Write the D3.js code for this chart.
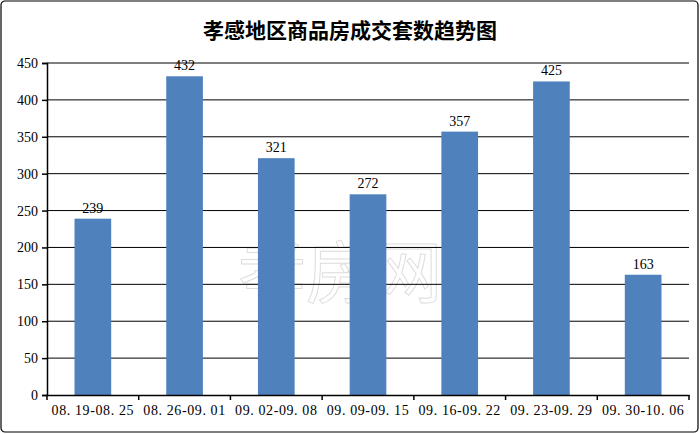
<!DOCTYPE html>
<html><head><meta charset="utf-8">
<script src="https://cdn.jsdelivr.net/npm/d3@7"></script>
<style>body{margin:0;background:#fff}</style>
</head><body><svg id="c" width="700" height="434"></svg>
<script>
const categories = ['08.19-08.25','08.26-09.01','09.02-09.08','09.09-09.15','09.16-09.22','09.23-09.29','09.30-10.06'];
const values = [239, 432, 321, 272, 357, 425, 163];
const yTicks = [0,50,100,150,200,250,300,350,400,450];

const svg = d3.select('#c');
const m = {l: 47, r: 689, t: 63, b: 395};
const font = '"Liberation Serif","DejaVu Serif",serif';

svg.append('rect').attr('x', 1).attr('y', 1).attr('width', 697).attr('height', 431)
  .attr('rx', 4).attr('fill', '#fff').attr('stroke', '#000').attr('stroke-width', 1.2);

svg.append('text').attr('x', 350).attr('y', 38).attr('text-anchor', 'middle')
  .attr('font-family', '"Noto Sans CJK SC",sans-serif').attr('font-weight', 'bold')
  .attr('font-size', 21).text('孝感地区商品房成交套数趋势图');

const x = d3.scaleBand().domain(categories).range([m.l, m.r]).paddingInner(0.6).paddingOuter(0.3);
const y = d3.scaleLinear().domain([0, 450]).range([m.b, m.t]);

// watermark
svg.append('text').attr('x', 340).attr('y', 298).attr('text-anchor', 'middle')
  .attr('font-family', '"Noto Sans CJK SC",sans-serif').attr('font-size', 68)
  .attr('fill', '#fff').attr('fill-opacity', 0.35).attr('stroke', '#ddd').attr('stroke-width', 1)
  .text('孝房网');

svg.append('g').selectAll('line').data(yTicks.filter(d => d > 0)).join('line')
  .attr('x1', m.l).attr('x2', m.r).attr('y1', d => y(d)).attr('y2', d => y(d))
  .attr('stroke', '#000').attr('stroke-width', 1);

svg.append('g').selectAll('rect').data(values).join('rect')
  .attr('x', (d, i) => x(categories[i])).attr('width', x.bandwidth())
  .attr('y', d => y(d)).attr('height', d => y(0) - y(d)).attr('fill', '#4f81bd');

svg.append('g').selectAll('text').data(values).join('text')
  .attr('x', (d, i) => x(categories[i]) + x.bandwidth() / 2).attr('y', d => y(d) - 6)
  .attr('text-anchor', 'middle').attr('font-family', font).attr('font-size', 14).text(d => d);

const ya = svg.append('g').attr('transform', `translate(${m.l},0)`)
  .call(d3.axisLeft(y).tickValues(yTicks).tickSize(5).tickPadding(4));
ya.selectAll('text').attr('font-family', font).attr('font-size', 14).attr('fill', '#000');
ya.selectAll('path,line').attr('stroke', '#000').attr('stroke-width', 1.5);

const xa = svg.append('g').attr('transform', `translate(0,${m.b})`)
  .call(d3.axisBottom(x).tickSize(0).tickPadding(10).tickSizeOuter(0));
xa.selectAll('text').attr('font-family', font).attr('font-size', 14).attr('fill', '#000')
  .attr('letter-spacing', 0.6)
  .text(d => d.replace(/\./g, '. '));
xa.selectAll('path').attr('stroke', '#000').attr('stroke-width', 1.5);
xa.selectAll('.bnd').data(d3.range(categories.length + 1)).join('line')
  .attr('x1', i => m.l + i * (m.r - m.l) / categories.length)
  .attr('x2', i => m.l + i * (m.r - m.l) / categories.length)
  .attr('y1', 0).attr('y2', 5).attr('stroke', '#000').attr('stroke-width', 1.5);
</script></body></html>
